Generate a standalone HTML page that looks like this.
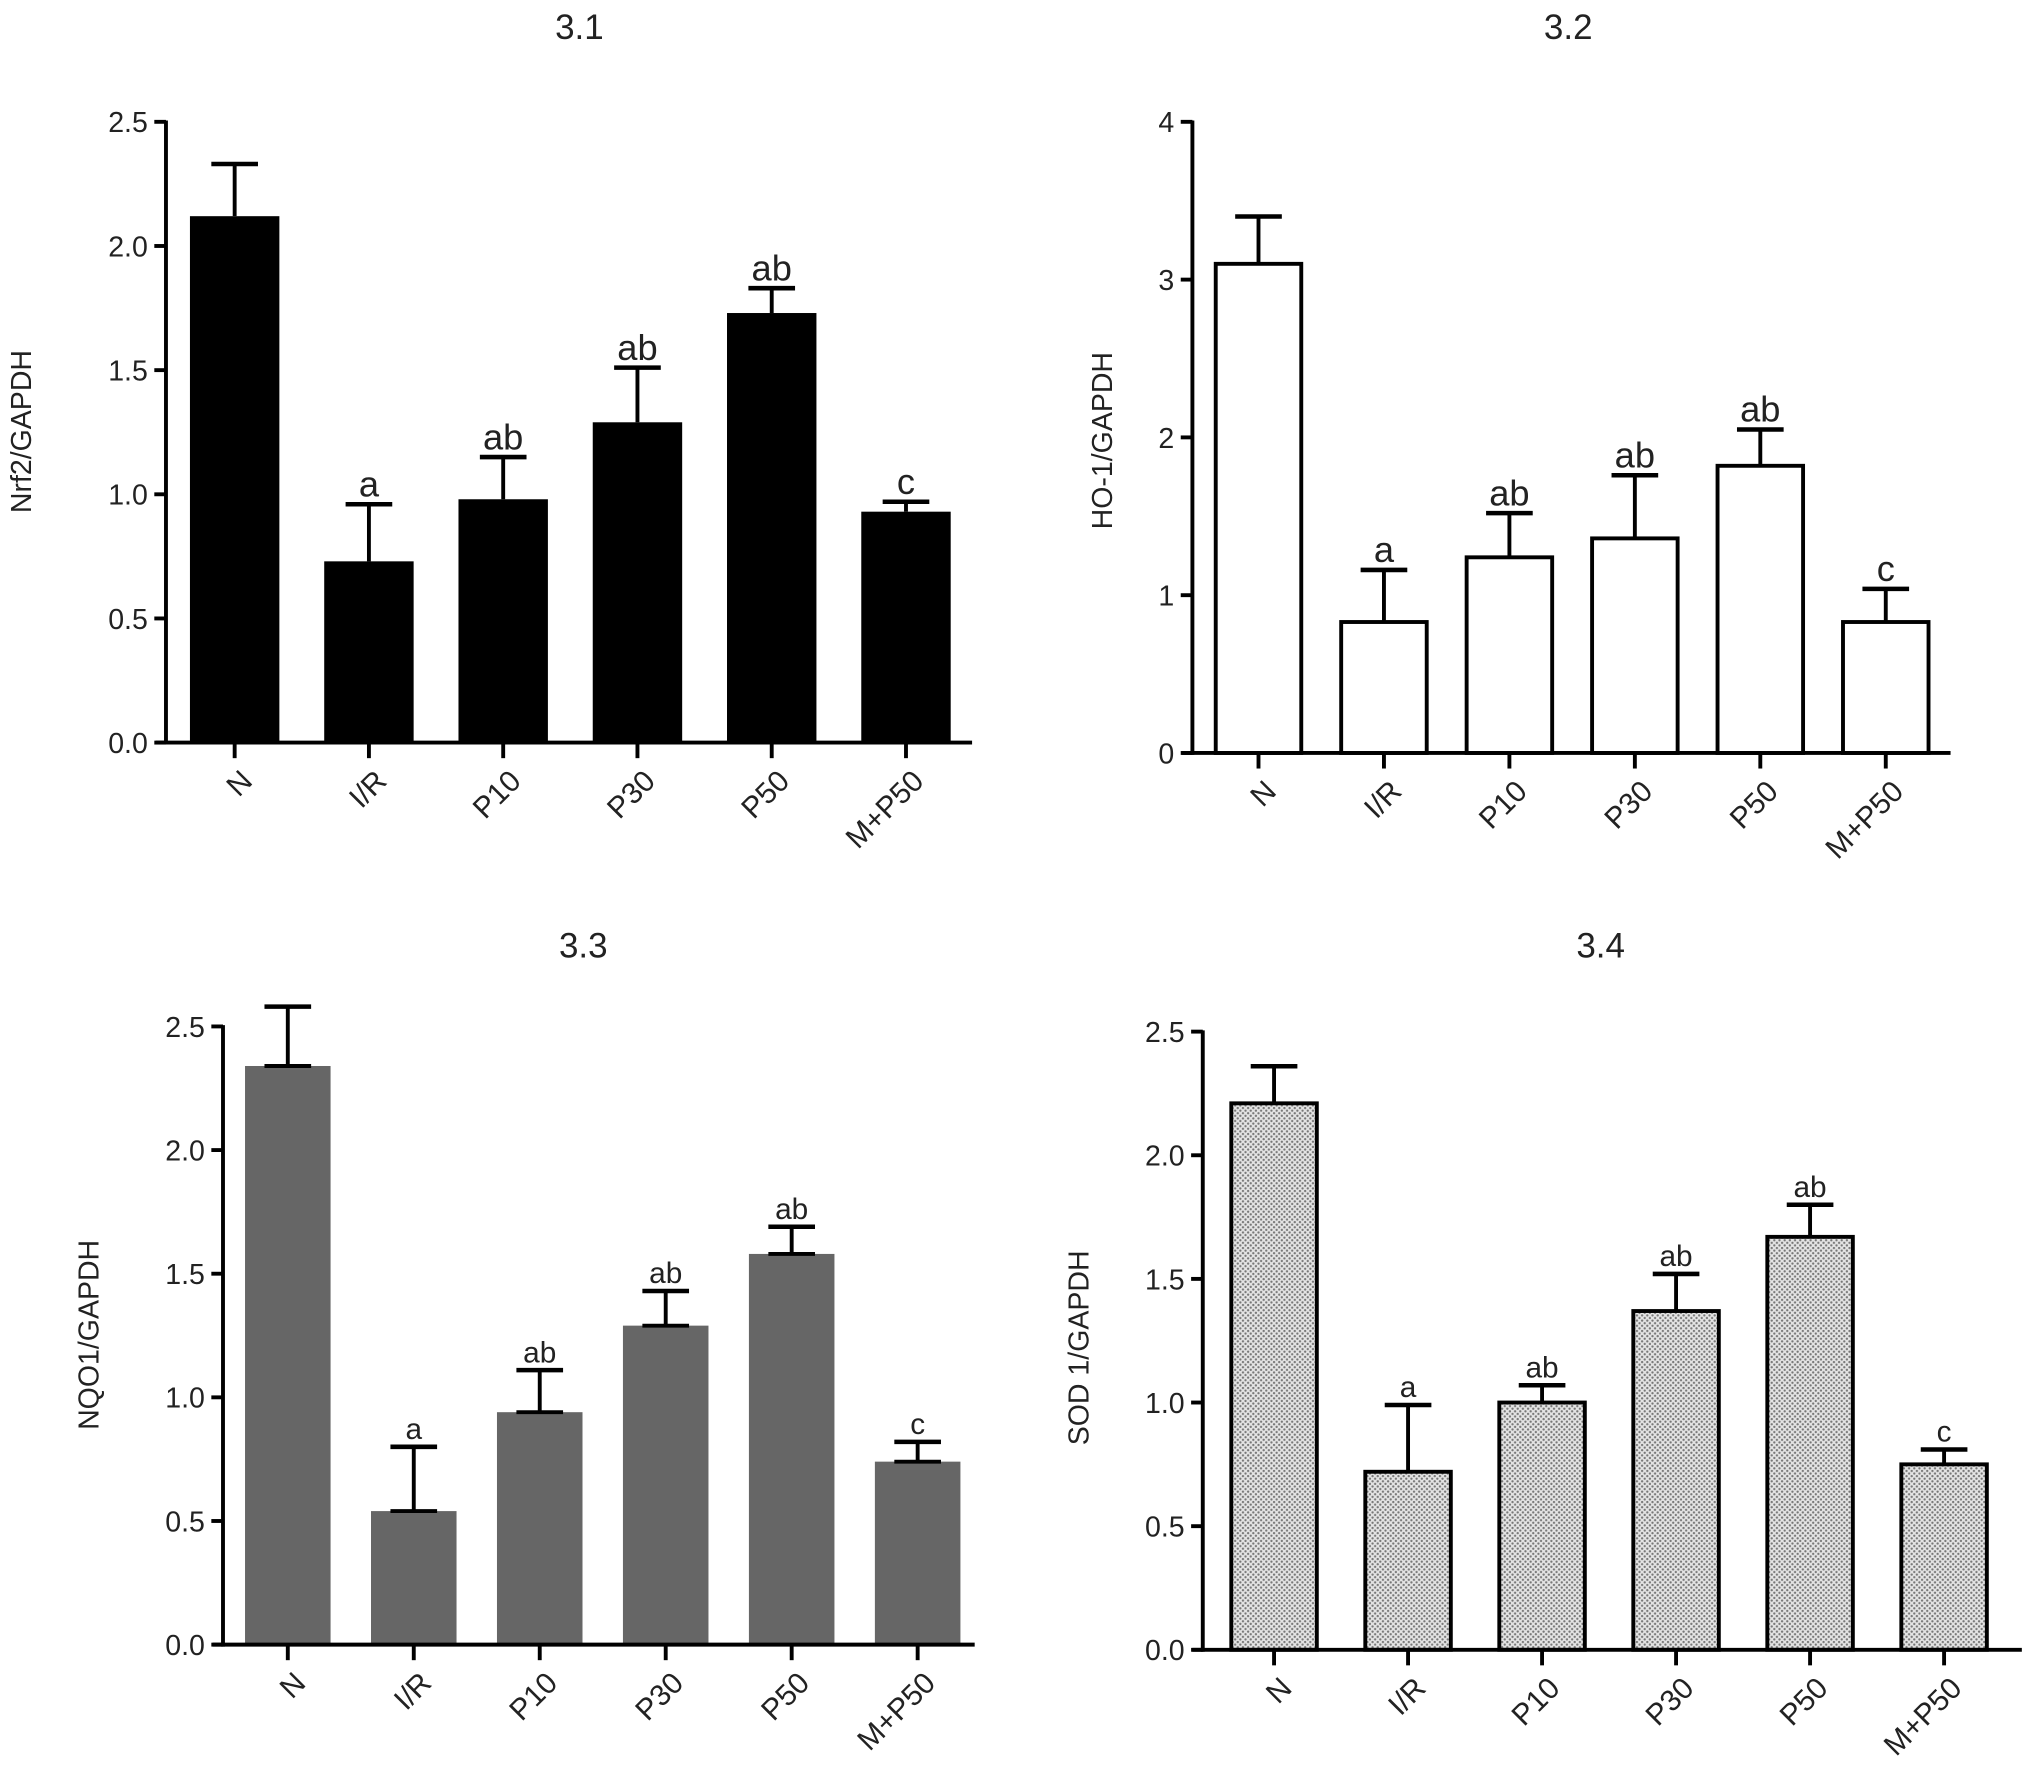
<!DOCTYPE html>
<html><head><meta charset="utf-8"><style>
html,body{margin:0;padding:0;background:#fff;}
svg{display:block;}
text{font-family:"Liberation Sans",Arial,sans-serif;fill:#222;}
</style></head><body>
<svg id="fig" width="2031" height="1782" viewBox="0 0 1567 1375" xmlns="http://www.w3.org/2000/svg">
<defs>
<pattern id="dots" width="4" height="4" patternUnits="userSpaceOnUse">
<rect width="4" height="4" fill="#e4e4e4"/>
<circle cx="1" cy="1" r="0.9" fill="#777"/>
<circle cx="3" cy="3" r="0.9" fill="#777"/>
</pattern>
</defs>
</svg>
<script>
const categories = ["N","I/R","P10","P30","P50","M+P50"];
const values31 = [2.12,0.73,0.98,1.29,1.73,0.93];
const errors31 = [2.33,0.96,1.15,1.51,1.83,0.97];
const letters31 = ["","a","ab","ab","ab","c"];
const ticks31 = ["0.0","0.5","1.0","1.5","2.0","2.5"];
const values32 = [3.1,0.83,1.24,1.36,1.82,0.83];
const errors32 = [3.4,1.16,1.52,1.76,2.05,1.04];
const letters32 = ["","a","ab","ab","ab","c"];
const ticks32 = ["0","1","2","3","4"];
const values33 = [2.34,0.54,0.94,1.29,1.58,0.74];
const errors33 = [2.58,0.80,1.11,1.43,1.69,0.82];
const letters33 = ["","a","ab","ab","ab","c"];
const ticks33 = ["0.0","0.5","1.0","1.5","2.0","2.5"];
const values34 = [2.21,0.72,1.00,1.37,1.67,0.75];
const errors34 = [2.36,0.99,1.07,1.52,1.80,0.81];
const letters34 = ["","a","ab","ab","ab","c"];
const ticks34 = ["0.0","0.5","1.0","1.5","2.0","2.5"];

const NS="http://www.w3.org/2000/svg";
const svg=document.getElementById('fig');
function mk(tag,attrs,parent){const e=document.createElementNS(NS,tag);for(const k in attrs)e.setAttribute(k,attrs[k]);(parent||svg).appendChild(e);return e;}

function panel(p){
  const g=mk('g',{});
  
  
  const ymax=parseFloat(p.ticks[p.ticks.length-1]);
  const y=v=>p.y0-(v/ymax)*(p.y0-p.ytop);
  const x=i=>p.x0+i*p.step;
  const t=mk('text',{x:p.titleX,y:p.titleY,'font-size':27,'text-anchor':'middle'},g);t.textContent=p.title;
  
  
  const yl=mk('text',{x:p.ylx,y:p.yly,'font-size':22,'text-anchor':'middle',transform:`rotate(-90 ${p.ylx} ${p.yly})`},g);yl.textContent=p.ylabel;
  
  
  p.values.forEach((v,i)=>{
    const cx=x(i),top=y(v),e=y(p.errors[i]);
    const sw=p.stroke?3:0;
    const r=mk('rect',{x:cx-p.bw/2,y:top,width:p.bw,height:p.y0-top,fill:p.fill,stroke:p.stroke||'none','stroke-width':sw},g);
    
    
    const el=mk('line',{x1:cx,x2:cx,y1:top,y2:e,stroke:'#000','stroke-width':3},g);
    
    
    mk('line',{x1:cx-18,x2:cx+18,y1:e,y2:e,stroke:'#000','stroke-width':3.5},g);
    if(p.lowCap) mk('line',{x1:cx-18,x2:cx+18,y1:top,y2:top,stroke:'#000','stroke-width':3},g);
    if(p.letters[i]){
      const lt=mk('text',{x:cx,y:e-6,'font-size':p.letterSize,'text-anchor':'middle'},g);lt.textContent=p.letters[i];
      
      
    }
    mk('line',{x1:cx,x2:cx,y1:p.y0,y2:p.y0+12,stroke:'#000','stroke-width':3},g);
    const cy=p.y0+26;
    const cl=mk('text',{x:cx+10,y:cy+7,'font-size':23,'text-anchor':'end',transform:`rotate(-45 ${cx+10} ${cy})`},g);cl.textContent=categories[i];
    
    
  });
  const ya=mk('line',{x1:p.ax,x2:p.ax,y1:p.ytop-1,y2:p.y0+1.5,stroke:'#000','stroke-width':3},g);
  
  
  const xa=mk('line',{x1:p.ax-8,x2:p.xend,y1:p.y0,y2:p.y0,stroke:'#000','stroke-width':3},g);
  
  
  p.ticks.forEach(tk=>{
    const ty=y(parseFloat(tk));
    mk('line',{x1:p.ax-9,x2:p.ax,y1:ty,y2:ty,stroke:'#000','stroke-width':3},g);
    const tl=mk('text',{x:p.ax-14,y:ty+8,'font-size':22,'text-anchor':'end'},g);tl.textContent=tk;
    
    
  });
}
panel({id:'3-1',title:'3.1',titleX:447,titleY:30,ylabel:'Nrf2/GAPDH',ylx:24,yly:333,ax:128,xend:750,ytop:94,y0:573,x0:181,step:103.6,bw:69,fill:'#000',stroke:null,values:values31,errors:errors31,letters:letters31,ticks:ticks31,letterSize:28});
panel({id:'3-2',title:'3.2',titleX:1210,titleY:30,ylabel:'HO-1/GAPDH',ylx:858,yly:340,ax:920,xend:1505,ytop:94,y0:581,x0:971,step:96.8,bw:66,fill:'#fff',stroke:'#000',values:values32,errors:errors32,letters:letters32,ticks:ticks32,letterSize:28});
panel({id:'3-3',title:'3.3',titleX:450,titleY:739,ylabel:'NQO1/GAPDH',ylx:76,yly:1030,ax:172,xend:752,ytop:792,y0:1269,x0:222,step:97.2,bw:66,fill:'#666',stroke:null,values:values33,errors:errors33,letters:letters33,ticks:ticks33,letterSize:23,lowCap:true});
panel({id:'3-4',title:'3.4',titleX:1235,titleY:739,ylabel:'SOD 1/GAPDH',ylx:840,yly:1040,ax:928,xend:1560,ytop:796,y0:1273,x0:983,step:103.4,bw:66,fill:'url(#dots)',stroke:'#000',values:values34,errors:errors34,letters:letters34,ticks:ticks34,letterSize:23});
</script>
</body></html>
